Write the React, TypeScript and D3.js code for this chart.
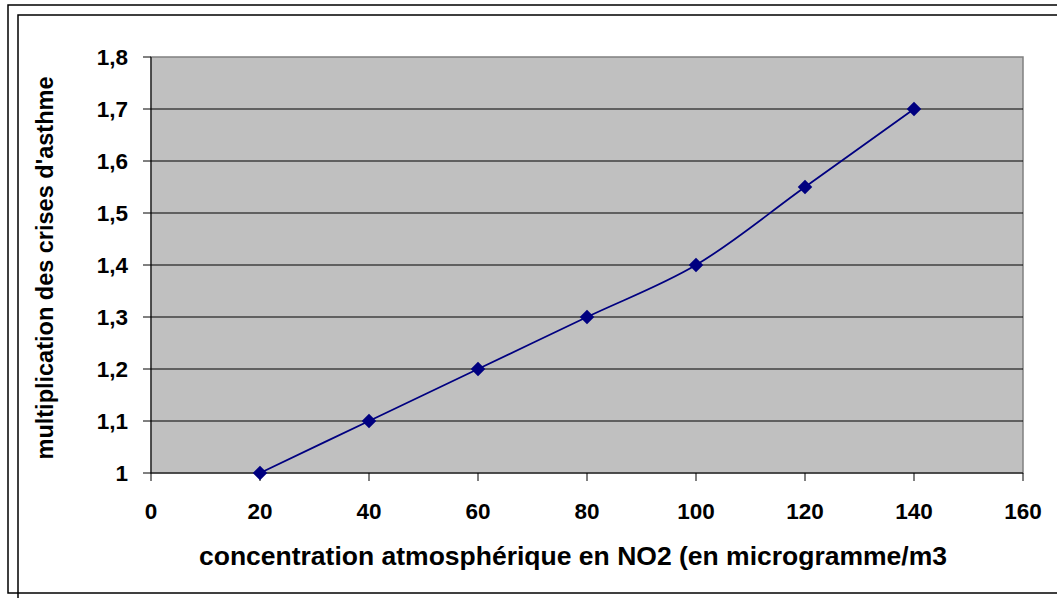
import React from 'react';
import * as d3 from 'd3';

// concentration NO2 (microgramme/m3) vs multiplication des crises d'asthme
const concentrations = [20, 40, 60, 80, 100, 120, 140];
const multiplications = [1, 1.1, 1.2, 1.3, 1.4, 1.55, 1.7];
const xTicks = [0, 20, 40, 60, 80, 100, 120, 140, 160];
const yTicks = [1, 1.1, 1.2, 1.3, 1.4, 1.5, 1.6, 1.7, 1.8];

const xTitle = 'concentration atmosphérique en NO2 (en microgramme/m3';
const yTitle = "multiplication des crises d'asthme";

const App: React.FC = () => {
  const width = 1057;
  const height = 598;
  const plotLeft = 151;
  const plotRight = 1023;
  const plotTop = 57;
  const plotBottom = 473;

  const x = d3.scaleLinear().domain([0, 160]).range([plotLeft, plotRight]);
  const y = d3.scaleLinear().domain([1, 1.8]).range([plotBottom, plotTop]);

  const points = concentrations.map((c, i) => [c, multiplications[i]] as [number, number]);
  const line = d3.line<[number, number]>()
    .x(d => x(d[0]))
    .y(d => y(d[1]))
    .curve(d3.curveCatmullRom.alpha(0.5));

  const fmt = (v: number) => d3.format('~g')(v).replace('.', ',');
  const font = '"Liberation Sans", Arial, sans-serif';
  const navy = '#000080';
  const diamond = d3.symbol().type(d3.symbolDiamond2).size(135)();

  return (
    <svg width={width} height={height} style={{ position: 'absolute', left: 0, top: 0, background: '#fff' }}
      fontFamily={font}>
      {/* frames */}
      <rect x={8} y={5} width={1070} height={588} fill="none" stroke="#000" strokeWidth={1.5} />
      <rect x={18} y={15} width={1070} height={600} fill="none" stroke="#000" strokeWidth={1.5} />

      {/* plot area */}
      <rect x={plotLeft} y={plotTop} width={plotRight - plotLeft} height={plotBottom - plotTop}
        fill="#c0c0c0" stroke="#808080" strokeWidth={1.5} />
      {yTicks.slice(1, -1).map(t => (
        <line key={t} x1={plotLeft} x2={plotRight} y1={y(t)} y2={y(t)} stroke="#000" strokeWidth={1} />
      ))}

      {/* axes */}
      <line x1={plotLeft} x2={plotLeft} y1={plotTop} y2={plotBottom} stroke="#000" strokeWidth={1} />
      <line x1={plotLeft} x2={plotRight} y1={plotBottom} y2={plotBottom} stroke="#000" strokeWidth={1} />
      {yTicks.map(t => (
        <g key={t}>
          <line x1={plotLeft - 8} x2={plotLeft} y1={y(t)} y2={y(t)} stroke="#000" />
          <text x={128} y={y(t)} dy="0.36em" textAnchor="end" fontSize={22.5} fontWeight="bold">{fmt(t)}</text>
        </g>
      ))}
      {xTicks.map(t => (
        <g key={t}>
          <line x1={x(t)} x2={x(t)} y1={plotBottom} y2={plotBottom + 8} stroke="#000" />
          <text x={x(t)} y={519} textAnchor="middle" fontSize={22.5} fontWeight="bold">{t}</text>
        </g>
      ))}

      {/* titles */}
      <text x={573} y={565} textAnchor="middle" fontSize={26.5} fontWeight="bold">{xTitle}</text>
      <text transform="translate(53,268) rotate(-90)" textAnchor="middle" fontSize={23.5} fontWeight="bold">{yTitle}</text>

      {/* series */}
      <path d={line(points) ?? ''} fill="none" stroke={navy} strokeWidth={1.8} />
      {points.map((p, i) => (
        <path key={i} d={diamond ?? ''} transform={`translate(${x(p[0])},${y(p[1])})`} fill={navy} />
      ))}
    </svg>
  );
};

export default App;
